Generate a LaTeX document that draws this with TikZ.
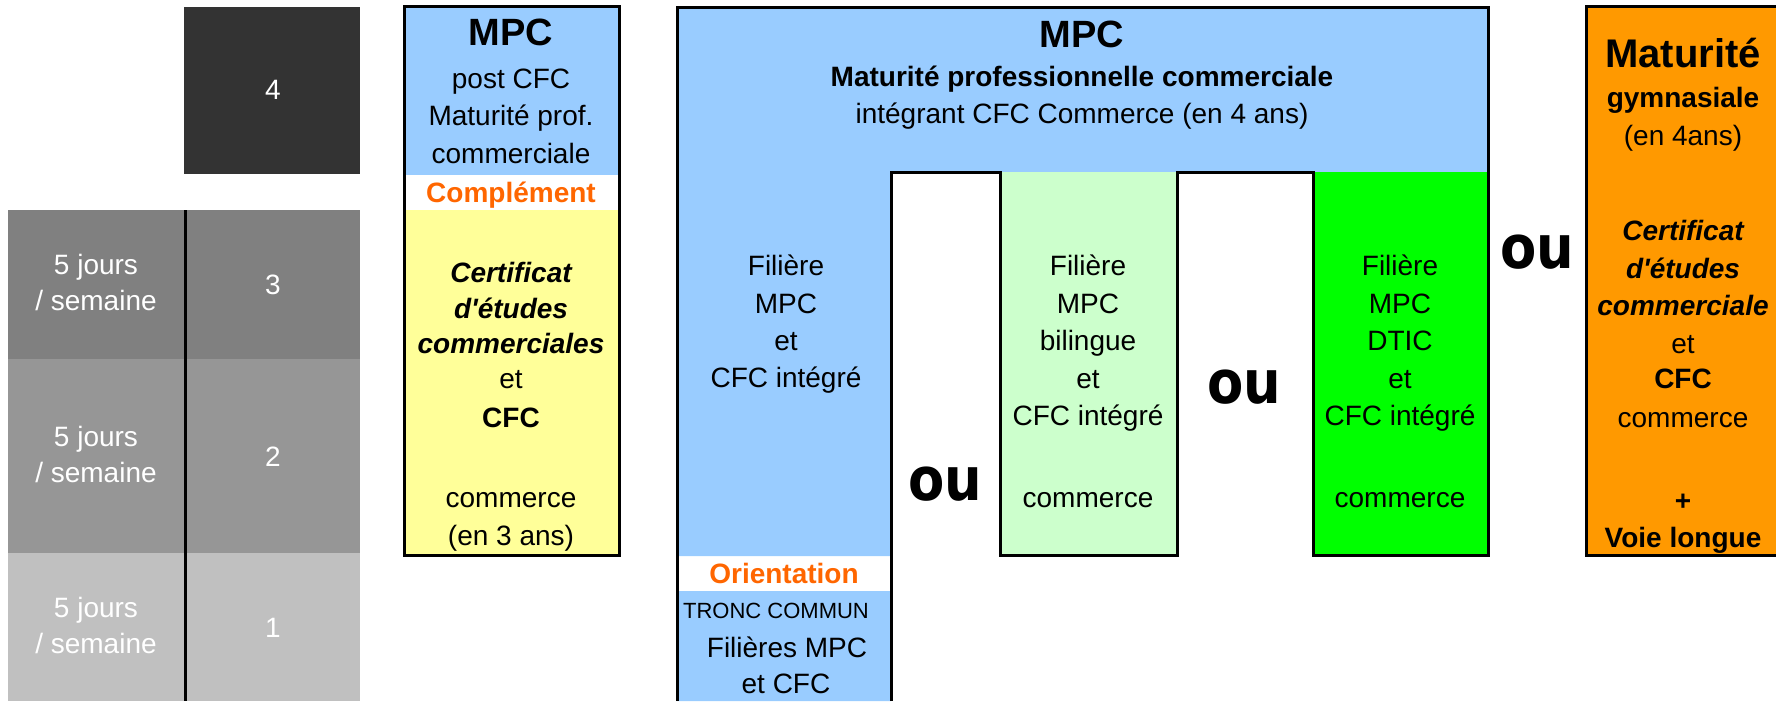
\documentclass[tikz,border=0pt]{standalone}
\usepackage{fontspec}
\setmainfont{Liberation Sans}
\newfontfamily\oufont{DejaVu Sans}[FakeStretch=0.88]
\definecolor{bleu}{HTML}{99CCFF}
\definecolor{jaune}{HTML}{FFFF99}
\definecolor{vertclair}{HTML}{CCFFCC}
\definecolor{vert}{HTML}{00FF00}
\definecolor{orange}{HTML}{FF9900}
\definecolor{orangetxt}{HTML}{FF6600}
\definecolor{gris4}{HTML}{333333}
\definecolor{gris3}{HTML}{808080}
\definecolor{gris2}{HTML}{969696}
\definecolor{gris1}{HTML}{C0C0C0}
\tikzset{
  cadre/.style={draw=black,line width=1.5pt},
  txt/.style={inner sep=0pt,text height=10pt,text depth=0pt,font=\fontsize{14}{17}\selectfont},
  gras/.style={txt,font=\bfseries\fontsize{14}{17}\selectfont},
  titre/.style={txt,text height=13.6pt,font=\bfseries\fontsize{19}{22}\selectfont},
  blanc/.style={txt,text=white},
  ornge/.style={gras,text=orangetxt},
  ou/.style={inner sep=0pt,text height=16.5pt,text depth=0pt,font=\oufont\bfseries\fontsize{30}{30}\selectfont},
}
\begin{document}
\begin{tikzpicture}[x=0.5pt,y=-0.5pt]
\useasboundingbox (0,0) rectangle (1776,701);
% annees
\fill[gris4] (184,7) rectangle (360,174);
\node[blanc] (an4) at (273,90) {4};
\foreach \a/\b/\c/\n in {210/359/gris3/3,359/553/gris2/2,553/701/gris1/1}{
  \fill[\c] (8,\a) rectangle (360,\b);
  \node[blanc] (an\n) at (273,{(\a+\b)/2}) {\n};
  \node[blanc] (jr\n) at (96,{(\a+\b)/2-20}) {5 jours};
  \node[blanc] (sm\n) at (96,{(\a+\b)/2+16}) {/ semaine};
}
\draw[line width=1.5pt] (185,210) -- (185,701);
% MPC post CFC
\fill[bleu] (404,7) rectangle (619,175);
\fill[jaune] (404,210) rectangle (619,555);
\draw[cadre] (404,7) rectangle (619,555);
\node[titre] (mpcA) at (511,32) {MPC};
\foreach \y/\t in {79/post CFC,116/Maturité prof.,153/commerciale}
  \node[txt] (pc\y) at (511,\y) {\t};
\node[ornge] (compl) at (511,192) {Complément};
\foreach \y/\t in {272/{\bfseries\itshape Certificat},308/{\bfseries\itshape d\textquotesingle études},
  343/{\bfseries\itshape commerciales},378/et,417/{\bfseries CFC},497/commerce,535/(en 3 ans)}
  \node[txt] (ce\y) at (511,\y) {\t};
% MPC en 4 ans
\fill[bleu] (677,8) rectangle (1488,172) (677,172) rectangle (891,556) (677,591) rectangle (891,701);
\fill[vertclair] (1000,172) rectangle (1177,555);
\fill[vert] (1313,172) rectangle (1488,555);
\draw[cadre] (677,701) |- (1488,8) |- (1313,555) |- (1177,172) |- (1000,555) |- (891,172) -- (891,701);
\node[titre] (mpcB) at (1082,34) {MPC};
\node[gras] (mpcB2) at (1082,77) {Maturité professionnelle commerciale};
\node[txt] (mpcB3) at (1082,114) {intégrant CFC Commerce (en 4 ans)};
\foreach \y/\t in {265/Filière,303/MPC,340/et,377/CFC intégré}
  \node[txt] (fa\y) at (786,\y) {\t};
\node[ornge] (orient) at (784,573) {Orientation};
\node[txt,font=\fontsize{11}{13}\selectfont,text height=8pt] (tronc) at (776,610) {TRONC COMMUN};
\node[txt] (tr2) at (787,647) {Filières MPC};
\node[txt] (tr3) at (786,683) {et CFC};
\foreach \y/\t in {265/Filière,303/MPC,340/bilingue,378/et,415/CFC intégré,497/commerce}
  \node[txt] (fb\y) at (1088,\y) {\t};
\foreach \y/\t in {265/Filière,303/MPC,340/DTIC,378/et,415/CFC intégré,497/commerce}
  \node[txt] (fc\y) at (1400,\y) {\t};
\node[ou] (ou1) at (945,484) {ou};
\node[ou] (ou2) at (1244,387) {ou};
\node[ou] (ou3) at (1537,252) {ou};
% maturite gymnasiale
\fill[orange] (1586,7) rectangle (1780,555);
\draw[cadre] (1780,7) -| (1586,555) -- (1780,555);
\node[txt,text height=14.3pt,font=\bfseries\fontsize{20}{24}\selectfont] (mg) at (1683,53) {Maturité};
\foreach \y/\t in {98/{\bfseries gymnasiale},135/(en 4ans),230/{\bfseries\itshape Certificat},
  268/{\bfseries\itshape d\textquotesingle études},305/{\bfseries\itshape commerciale},343/et,
  378/{\bfseries CFC},417/commerce,500/{\bfseries +},537/{\bfseries Voie longue}}
  \node[txt] (mg\y) at (1683,\y) {\t};
\end{tikzpicture}
\end{document}
